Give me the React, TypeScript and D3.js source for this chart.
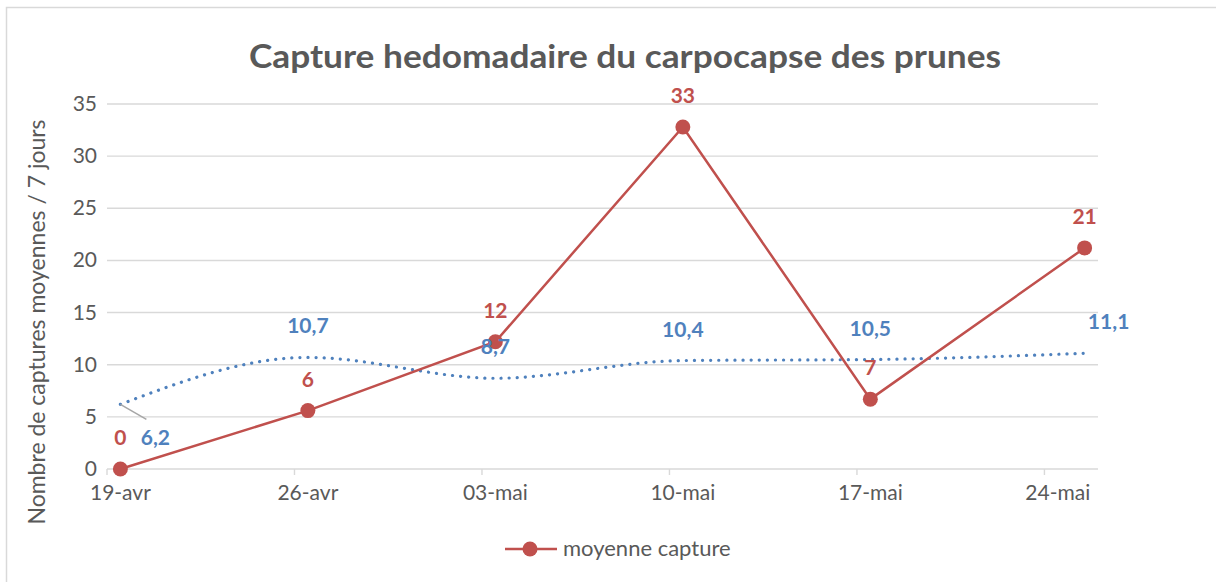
import React from "react";
import * as d3 from "d3";

const dates = ["2021-04-19", "2021-04-26", "2021-05-03", "2021-05-10", "2021-05-17", "2021-05-25"];
const captures = [0, 5.6, 12.2, 32.8, 6.7, 21.2];
const trend = [6.2, 10.7, 8.7, 10.4, 10.5, 11.1];
const tickDates = ["2021-04-19", "2021-04-26", "2021-05-03", "2021-05-10", "2021-05-17", "2021-05-24"];
const tickLabels = ["19-avr", "26-avr", "03-mai", "10-mai", "17-mai", "24-mai"];
const yTicks = [0, 5, 10, 15, 20, 25, 30, 35];

const W = 1216;
const H = 582;
const red = "#c0504d";
const blue = "#4f81bd";
const grey = "#595959";
const font = "Lato, 'Open Sans', sans-serif";

const day = (s: string) => new Date(s + "T00:00:00");
const mid = (s: string) => d3.timeHour.offset(day(s), 12);

export default function App() {
  const x = d3.scaleTime().domain([day("2021-04-19"), day("2021-05-26")]).range([107, 1098]);
  const y = d3.scaleLinear().domain([0, 35]).range([469, 104]);
  const fmt = (v: number) => d3.format(".1f")(v).replace(".", ",");

  const redLine = d3
    .line<number>()
    .x((_, i) => x(mid(dates[i])))
    .y((d) => y(d))(captures);

  const blueLine = d3
    .line<number>()
    .x((_, i) => x(mid(dates[i])))
    .y((d) => y(d))
    .curve(d3.curveMonotoneX)(trend);

  return (
    <svg width={W} height={H} style={{ position: "absolute", left: 0, top: 0, background: "#fff" }}>
      <rect x={6.5} y={7.5} width={1400} height={800} fill="#fff" stroke="#d9d9d9" strokeWidth={1.5} />

      <text
        x={625}
        y={68}
        textAnchor="middle"
        fontFamily={font}
        fontWeight="bold"
        fontSize={33}
        fill={grey}
        textLength={752}
        lengthAdjust="spacingAndGlyphs"
      >
        Capture hedomadaire du carpocapse des prunes
      </text>

      {/* grid */}
      {yTicks.map((t) => (
        <g key={t}>
          <line x1={107} x2={1098} y1={y(t)} y2={y(t)} stroke="#d9d9d9" strokeWidth={1.4} />
          <text x={97} y={y(t) + 7} textAnchor="end" fontFamily={font} fontSize={21} fill={grey}>
            {t}
          </text>
        </g>
      ))}

      {/* x axis */}
      {tickDates.map((t, i) => (
        <g key={t}>
          <line x1={x(day(t))} x2={x(day(t))} y1={y(0)} y2={y(0) + 6} stroke="#d9d9d9" strokeWidth={1.4} />
          <text x={x(mid(t))} y={500} textAnchor="middle" fontFamily={font} fontSize={21} fill={grey}>
            {tickLabels[i]}
          </text>
        </g>
      ))}

      <text
        transform={`translate(45,322) rotate(-90)`}
        textAnchor="middle"
        fontFamily={font}
        fontSize={23}
        fill={grey}
      >
        Nombre de captures moyennes / 7 jours
      </text>

      {/* trend line */}
      <path d={blueLine ?? ""} fill="none" stroke={blue} strokeWidth={3.2} strokeLinecap="round" strokeDasharray="0.1 8" />

      {/* captures */}
      <path d={redLine ?? ""} fill="none" stroke={red} strokeWidth={2.5} />
      {captures.map((v, i) => (
        <circle key={i} cx={x(mid(dates[i]))} cy={y(v)} r={7.5} fill={red} />
      ))}

      {/* leader line for first trend label */}
      <line x1={x(mid(dates[0]))} y1={y(trend[0])} x2={x(mid(dates[0])) + 26} y2={y(trend[0]) + 15} stroke="#a6a6a6" strokeWidth={1.5} />

      {trend.map((v, i) => {
        let lx = x(mid(dates[i]));
        let ly = y(v) - 24;
        if (i === 0) {
          lx += 35;
          ly = y(v) + 41;
        }
        if (i === trend.length - 1) lx += 24;
        return (
          <text key={i} x={lx} y={ly} textAnchor="middle" fontFamily={font} fontWeight="bold" fontSize={21} fill={blue}>
            {fmt(v)}
          </text>
        );
      })}

      {captures.map((v, i) => (
        <text
          key={i}
          x={x(mid(dates[i]))}
          y={y(v) - 24}
          textAnchor="middle"
          fontFamily={font}
          fontWeight="bold"
          fontSize={21}
          fill={red}
        >
          {d3.format(".0f")(v)}
        </text>
      ))}

      {/* legend */}
      <line x1={505} x2={557} y1={549} y2={549} stroke={red} strokeWidth={2.5} />
      <circle cx={530} cy={549} r={7.5} fill={red} />
      <text x={563} y={556} fontFamily={font} fontSize={22} fill={grey}>
        moyenne capture
      </text>
    </svg>
  );
}
